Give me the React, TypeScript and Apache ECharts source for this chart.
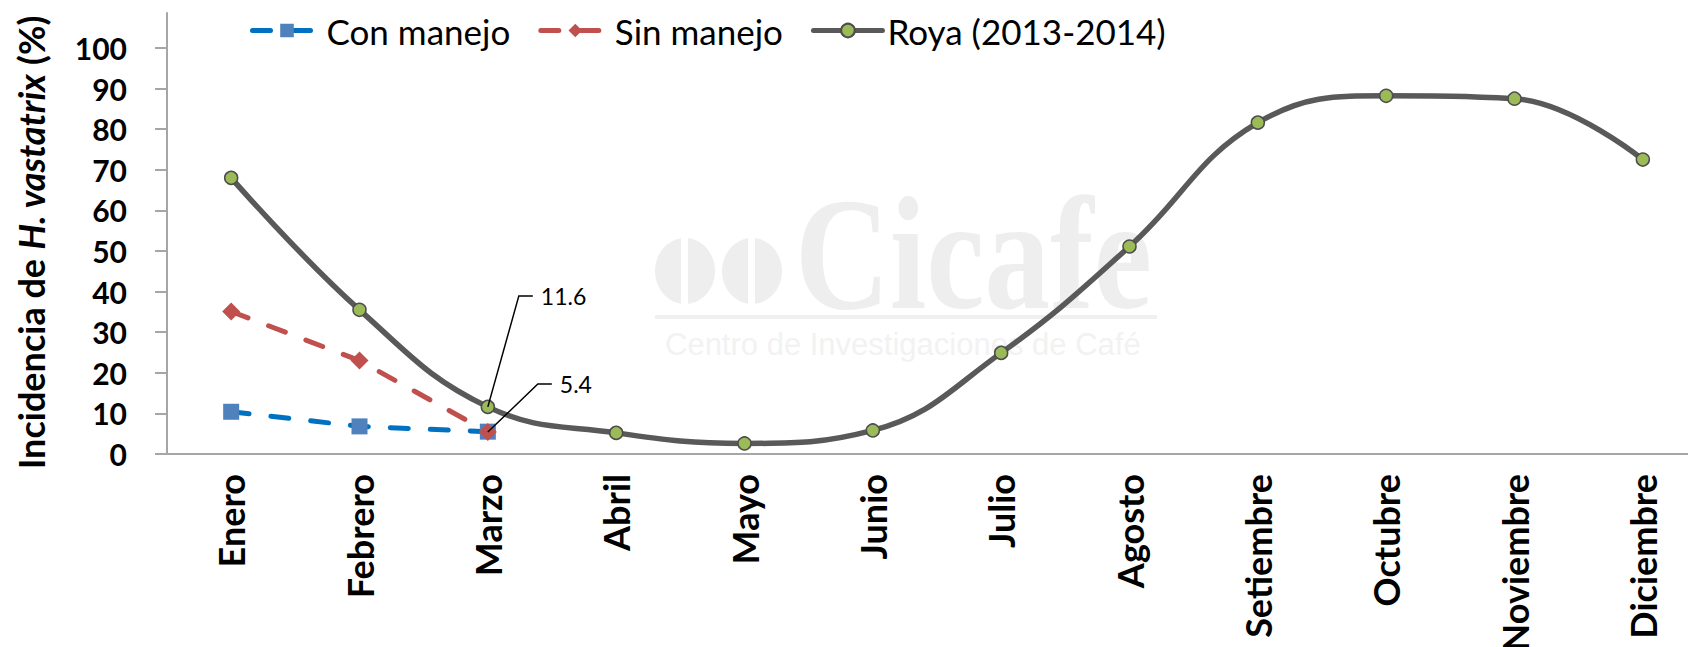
import React, { useEffect, useRef } from "react";
import * as echarts from "echarts";

const months = ["Enero", "Febrero", "Marzo", "Abril", "Mayo", "Junio", "Julio", "Agosto", "Setiembre", "Octubre", "Noviembre", "Diciembre"];
const conManejo = [10.4, 6.8, 5.5];
const sinManejo = [35.1, 23.0, 5.4];
const roya = [68.0, 35.5, 11.6, 5.2, 2.6, 5.8, 24.9, 51.1, 81.6, 88.2, 87.5, 72.5];
const yTicks = [0, 10, 20, 30, 40, 50, 60, 70, 80, 90, 100];
const seriesNames = ["Con manejo", "Sin manejo", "Roya (2013-2014)"];

const WM = "#eeeeee";

export default function App() {
  const ref = useRef<HTMLDivElement>(null);
  useEffect(() => {
    const chart = echarts.init(ref.current!, null, { renderer: "svg" });
    const option: any = {
      animation: false,
      backgroundColor: "#ffffff",
      grid: { left: 167, top: 13, width: 1540, height: 441, containLabel: false, outerBoundsMode: "none" },
      legend: {
        left: 245,
        top: 8,
        itemWidth: 69,
        itemHeight: 17,
        itemGap: 28,
        lineStyle: { width: 5, type: "inherit", cap: "round" },
        textStyle: { fontFamily: "Lato", fontSize: 35, color: "#000" },
        data: seriesNames,
      },
      xAxis: {
        type: "category",
        data: months,
        boundaryGap: true,
        axisLine: { lineStyle: { color: "#a6a6a6", width: 2 } },
        axisTick: { alignWithLabel: true, length: 10, lineStyle: { color: "#a6a6a6", width: 2 } },
        axisLabel: { rotate: 90, interval: 0, margin: 20, fontFamily: "Lato", fontWeight: "bold", fontSize: 36, color: "#000" },
      },
      yAxis: {
        type: "value",
        min: 0,
        max: 108.6,
        interval: 10,
        name: "Incidencia de {i|H. vastatrix} (%)",
        nameLocation: "middle",
        nameGap: 118,
        nameTextStyle: {
          fontFamily: "Lato",
          fontWeight: "bold",
          fontSize: 36,
          color: "#000",
          padding: [0, 18, 0, 0],
          rich: { i: { fontFamily: "Lato", fontWeight: "bold", fontStyle: "italic", fontSize: 36, color: "#000" } },
        },
        axisLine: { show: true, lineStyle: { color: "#a6a6a6", width: 2 } },
        axisTick: { show: true, length: 12, customValues: yTicks, lineStyle: { color: "#a6a6a6", width: 2 } },
        axisLabel: { customValues: yTicks, margin: 40, fontFamily: "Lato", fontWeight: "bold", fontSize: 30, color: "#000" },
        splitLine: { show: false },
      },
      series: [
        {
          name: seriesNames[0],
          type: "line",
          data: conManejo,
          symbol: "rect",
          symbolSize: 16,
          itemStyle: { color: "#4F81BD" },
          lineStyle: { color: "#0070C0", width: 5, type: [18, 22], cap: "round" },
          z: 3,
        },
        {
          name: seriesNames[1],
          type: "line",
          data: sinManejo,
          symbol: "diamond",
          symbolSize: 18,
          itemStyle: { color: "#C0504D" },
          lineStyle: { color: "#C0504D", width: 5, type: [18, 22], cap: "round" },
          z: 4,
        },
        {
          name: seriesNames[2],
          type: "line",
          data: roya,
          smooth: 0.42,
          symbol: "circle",
          symbolSize: 13,
          itemStyle: { color: "#9BBB59", borderColor: "#4d4d4d", borderWidth: 1.5 },
          lineStyle: { color: "#595959", width: 5.5 },
          z: 2,
        },
      ],
    };
    chart.setOption(option);

    const p1 = chart.convertToPixel({ gridIndex: 0 }, [2, roya[2]]) as number[];
    const p2 = chart.convertToPixel({ gridIndex: 0 }, [2, sinManejo[2]]) as number[];

    const callout = (p: number[], dx: number, dy: number, label: string) => [
      {
        type: "polyline",
        z: 100,
        shape: { points: [[p[0], p[1]], [p[0] + dx, p[1] + dy], [p[0] + dx + 14, p[1] + dy]] },
        style: { stroke: "#000", lineWidth: 1.5, fill: null },
      },
      {
        type: "text",
        z: 100,
        x: p[0] + dx + 22,
        y: p[1] + dy,
        style: { text: label, fontFamily: "Lato", fontSize: 23, fill: "#000", textAlign: "left", textVerticalAlign: "middle" },
      },
    ];

    const watermark = [
      { type: "ellipse", z: -10, shape: { cx: 685, cy: 271, rx: 30, ry: 33 }, style: { fill: WM } },
      { type: "rect", z: -9, shape: { x: 681, y: 236, width: 7, height: 72 }, style: { fill: "#fff" } },
      { type: "ellipse", z: -10, shape: { cx: 752, cy: 271, rx: 30, ry: 33 }, style: { fill: WM } },
      { type: "rect", z: -9, shape: { x: 748, y: 236, width: 7, height: 72 }, style: { fill: "#fff" } },
      {
        type: "text",
        z: -10,
        x: 795,
        y: 254,
        scaleX: 0.82,
        style: { text: "Cicafe", fontFamily: "Liberation Serif", fontWeight: "bold", fontSize: 160, fill: WM, textAlign: "left", textVerticalAlign: "middle" },
      },
      { type: "rect", z: -10, shape: { x: 655, y: 315, width: 502, height: 4 }, style: { fill: "#f0f0f0" } },
      {
        type: "text",
        z: -10,
        x: 665,
        y: 344,
        style: { text: "Centro de Investigaciones de Café", fontFamily: "Liberation Sans", fontSize: 31, fill: "#f2f2f2", textAlign: "left", textVerticalAlign: "middle" },
      },
    ];

    chart.setOption({
      graphic: [...watermark, ...callout(p1, 31, -111, "11.6"), ...callout(p2, 50, -48, "5.4")],
    });

    return () => chart.dispose();
  }, []);
  return (
    <div
      ref={ref}
      style={{ position: "fixed", left: 0, top: 0, width: 1688, height: 647, background: "#fff" }}
    />
  );
}
